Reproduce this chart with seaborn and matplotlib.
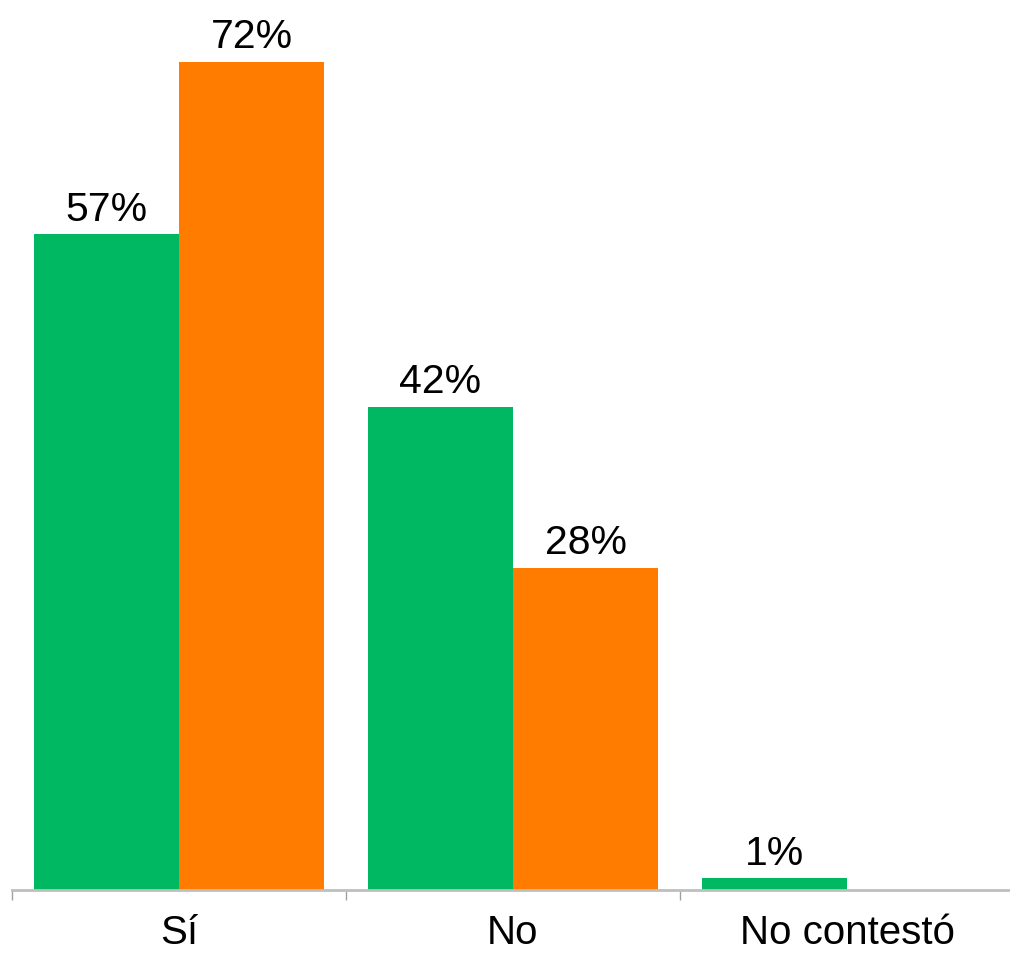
import matplotlib
matplotlib.use("Agg")
import matplotlib.pyplot as plt
import seaborn as sns
import pandas as pd

categories = ["Sí", "No", "No contestó"]
series_names = ["Serie 1", "Serie 2"]
serie1 = [57, 42, 1]
serie2 = [72, 28, 0]

colors = ["#00B862", "#FF7C00"]

sns.set_theme(style="white")
plt.rcParams["font.family"] = ["Liberation Sans", "DejaVu Sans"]

df = pd.DataFrame({
    "categoria": categories * 2,
    "serie": [series_names[0]] * 3 + [series_names[1]] * 3,
    "valor": serie1 + serie2,
})

fig = plt.figure(figsize=(10.10, 9.56), dpi=100)
ax = fig.add_axes([12 / 1010, 66 / 956, 1002 / 1010, 863 / 956])

sns.barplot(data=df, x="categoria", y="valor", hue="serie", order=categories,
            hue_order=series_names, palette=colors, width=0.87, saturation=1,
            linewidth=0, ax=ax, legend=False)

for cont in ax.containers:
    labels = [f"{v:.0f}%" if v > 0 else "" for v in cont.datavalues]
    ax.bar_label(cont, labels=labels, padding=4, fontsize=29.5, color="black")

ax.set_xlim(-0.5, 2.5)
ax.set_ylim(0, 75)
ax.set_xlabel("")
ax.set_ylabel("")
ax.set_yticks([])

for s in ["top", "right", "left"]:
    ax.spines[s].set_visible(False)
ax.spines["bottom"].set_color("#BFBFBF")
ax.spines["bottom"].set_linewidth(2)

ax.set_xticks([0, 1, 2])
ax.set_xticklabels(categories, fontsize=29, color="black")
ax.tick_params(axis="x", which="major", bottom=False, length=0, pad=17)
ax.set_xticks([-0.5, 0.5, 1.5], minor=True)
ax.tick_params(axis="x", which="minor", bottom=True, length=7, width=1,
               color="#A0A0A0", direction="out")

fig.savefig("out.png", dpi=100)
